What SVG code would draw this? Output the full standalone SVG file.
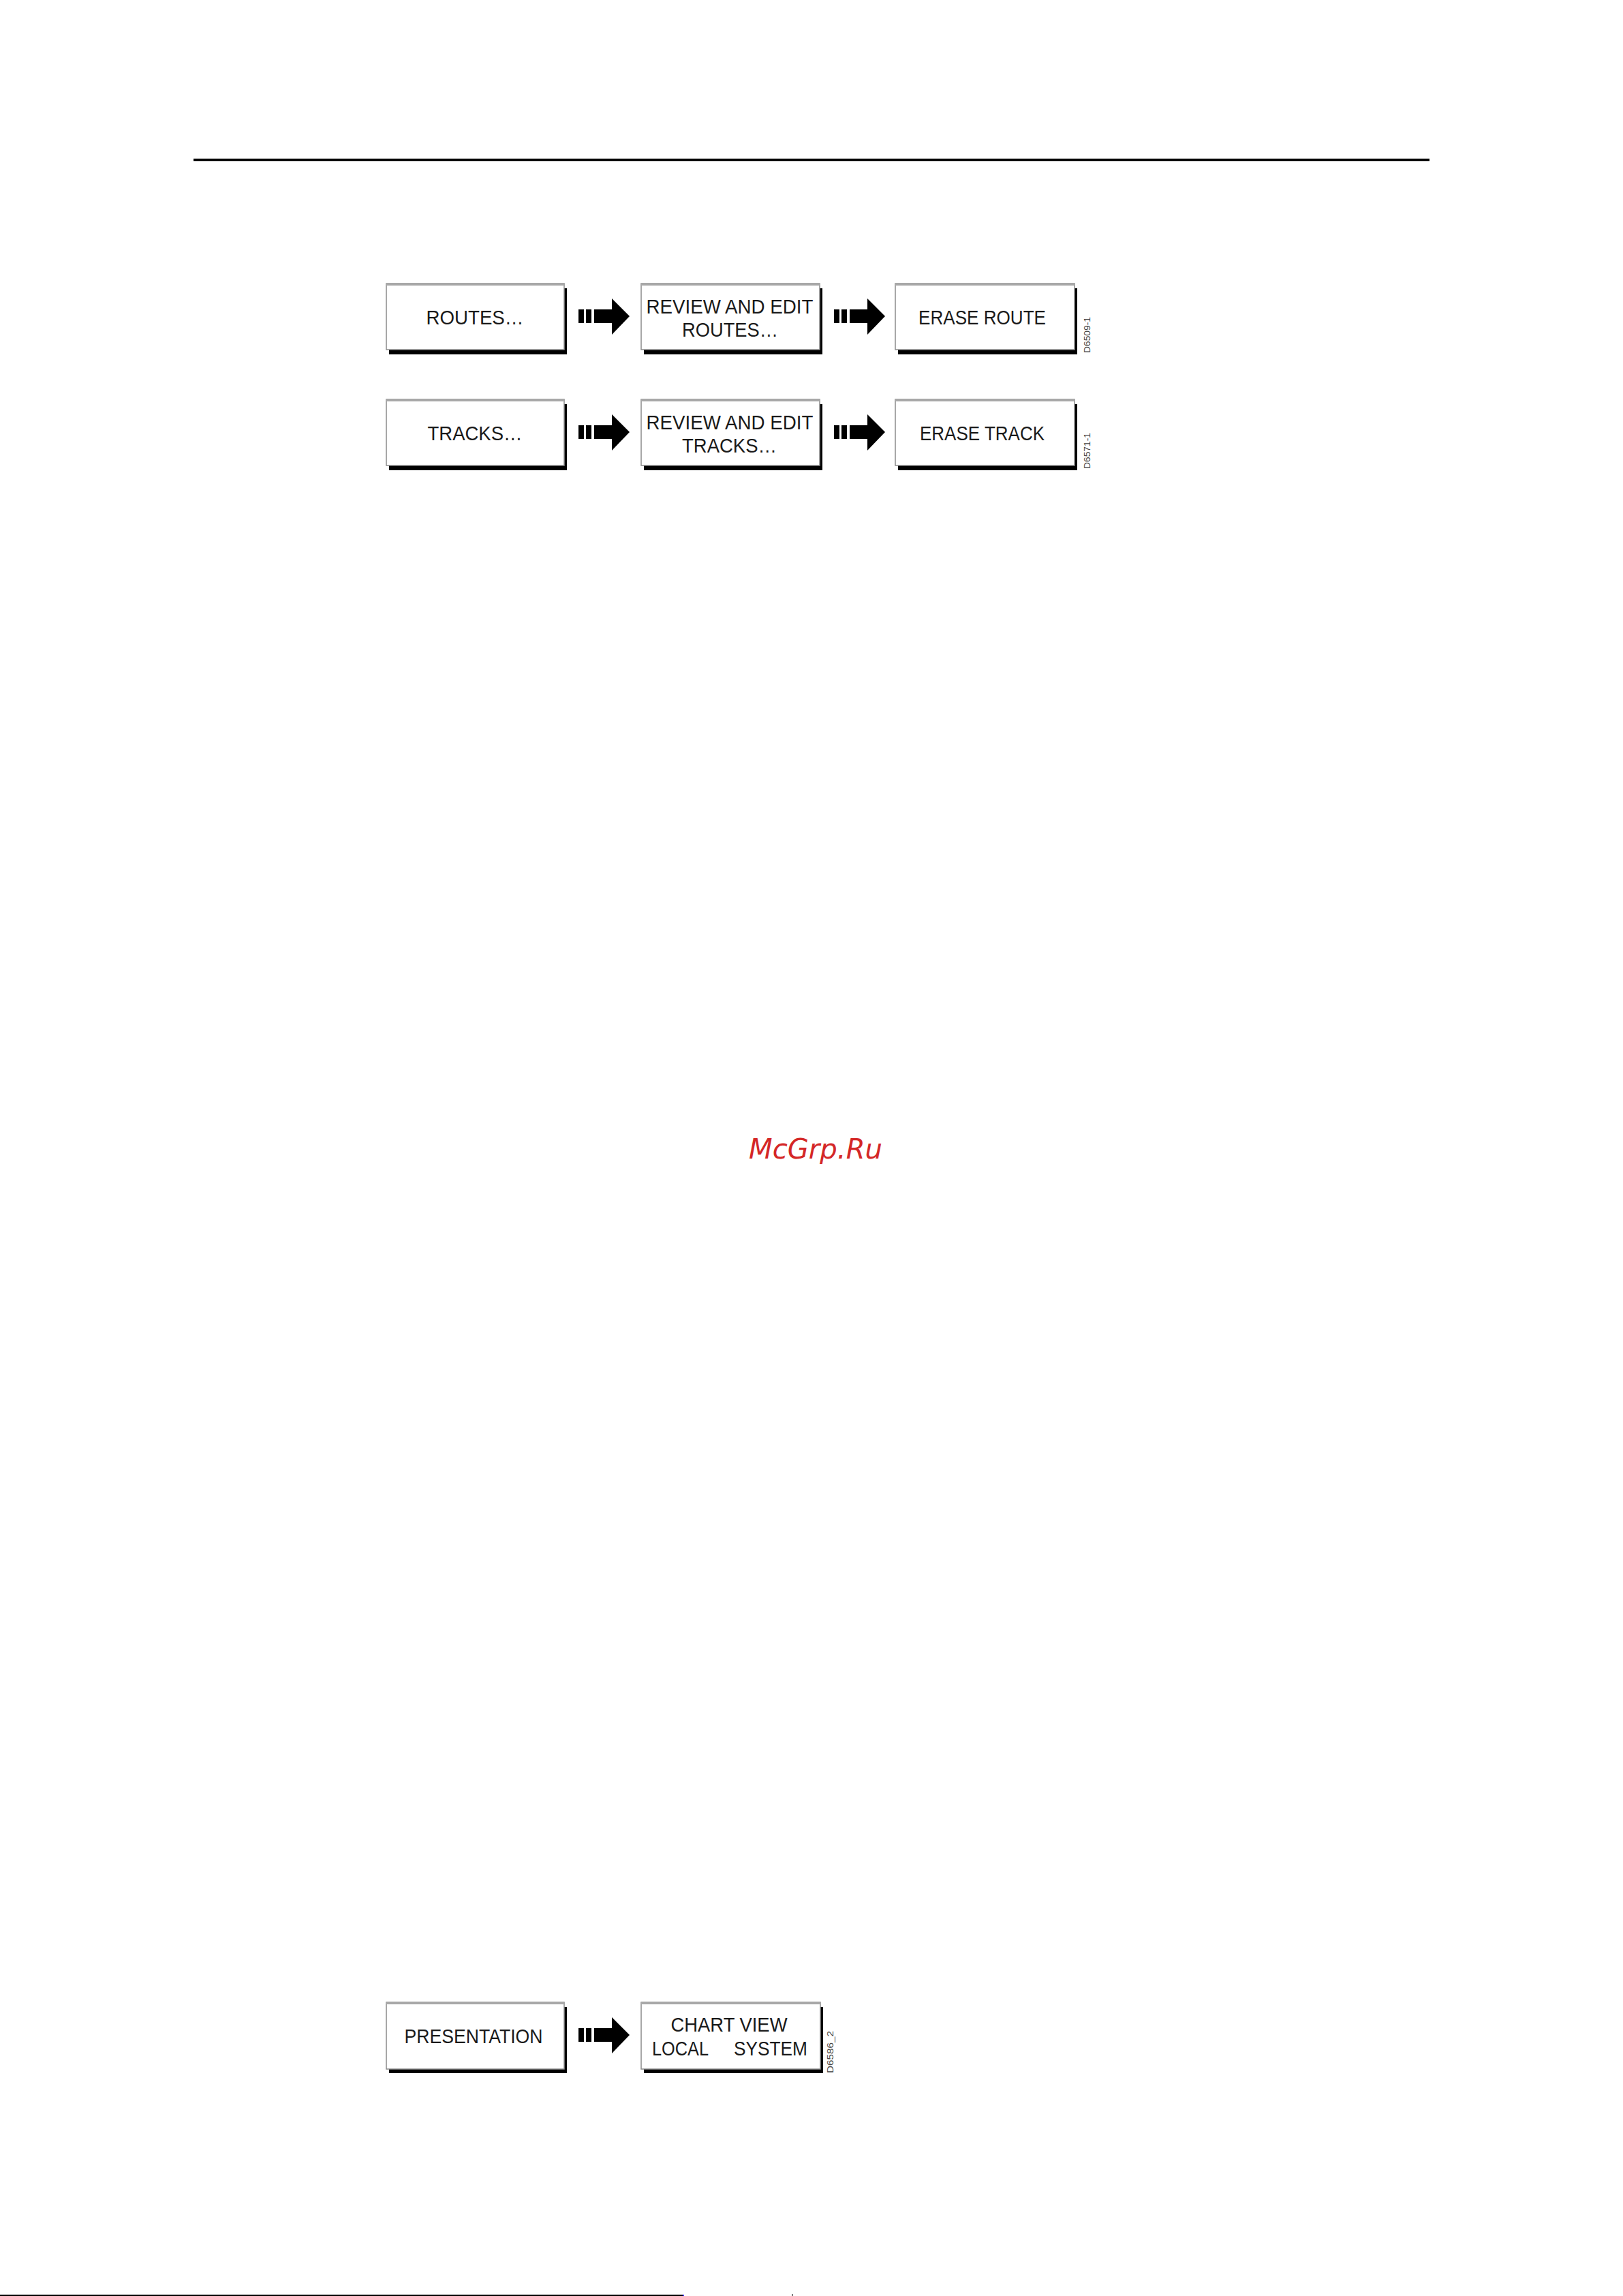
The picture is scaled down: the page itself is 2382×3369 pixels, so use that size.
<svg xmlns="http://www.w3.org/2000/svg" xmlns:xlink="http://www.w3.org/1999/xlink" width="2382" height="3369" viewBox="0 0 2382 3369">
<style>
.shadow{fill:#000}
.box{fill:#fff;stroke:#8a8a8a;stroke-width:1.5}
.top{fill:#a8a8a8}
.lbl{font-family:"Liberation Sans",Arial,sans-serif;font-size:30px;fill:#1a1a1a;text-anchor:middle}
.code{font-family:"Liberation Sans",Arial,sans-serif;font-size:12.5px;fill:#444}
.wm{font-family:"DejaVu Sans",sans-serif;font-style:oblique;font-size:40px;fill:#d42727;text-anchor:middle}
</style>
<defs>
<g id="arrow">
<rect x="0" y="-10" width="8" height="20"/>
<rect x="11" y="-10" width="8" height="20"/>
<rect x="23" y="-10" width="27" height="20"/>
<polygon points="49,-26 75,0 49,27"/>
</g>
</defs>
<rect width="2382" height="3369" fill="#fff"/>
<line x1="284" y1="234.5" x2="2098" y2="234.5" stroke="#000" stroke-width="3.3"/>
<line x1="0" y1="3368" x2="1002" y2="3368" stroke="#000" stroke-width="2"/>
<line x1="1002" y1="3368" x2="1004" y2="3368" stroke="#2a2aff" stroke-width="2"/>
<line x1="1163" y1="3366" x2="1163" y2="3369" stroke="#000" stroke-width="1"/>

<g id="connectors" fill="#000">
<use xlink:href="#arrow" x="849" y="464"/>
<use xlink:href="#arrow" x="1224" y="464"/>
<use xlink:href="#arrow" x="849" y="634"/>
<use xlink:href="#arrow" x="1224" y="634"/>
<use xlink:href="#arrow" x="849" y="2986"/>
</g>

<g id="routes">
<rect class="shadow" x="571" y="423" width="261" height="97"/>
<rect class="box" x="567" y="416" width="261" height="97"/>
<rect class="top" x="567" y="415.5" width="261" height="3.5"/>
<text class="lbl" x="697" y="476" textLength="143" lengthAdjust="spacingAndGlyphs">ROUTES…</text>
</g>
<g id="review-routes">
<rect class="shadow" x="945" y="423" width="262" height="97"/>
<rect class="box" x="941" y="416" width="262" height="97"/>
<rect class="top" x="941" y="415.5" width="262" height="3.5"/>
<text class="lbl" x="1071" y="460" textLength="245" lengthAdjust="spacingAndGlyphs">REVIEW AND EDIT</text>
<text class="lbl" x="1071.5" y="494" textLength="141" lengthAdjust="spacingAndGlyphs">ROUTES…</text>
</g>
<g id="erase-route">
<rect class="shadow" x="1318" y="423" width="263" height="97"/>
<rect class="box" x="1314" y="416" width="263" height="97"/>
<rect class="top" x="1314" y="415.5" width="263" height="3.5"/>
<text class="lbl" x="1441.5" y="476" textLength="187" lengthAdjust="spacingAndGlyphs">ERASE ROUTE</text>
</g>
<text class="code" x="1600" y="518" transform="rotate(-90 1600 518)" textLength="53" lengthAdjust="spacingAndGlyphs">D6509-1</text>

<g id="tracks">
<rect class="shadow" x="571" y="593" width="261" height="97"/>
<rect class="box" x="567" y="586" width="261" height="97"/>
<rect class="top" x="567" y="585.5" width="261" height="3.5"/>
<text class="lbl" x="697" y="646" textLength="139" lengthAdjust="spacingAndGlyphs">TRACKS…</text>
</g>
<g id="review-tracks">
<rect class="shadow" x="945" y="593" width="262" height="97"/>
<rect class="box" x="941" y="586" width="262" height="97"/>
<rect class="top" x="941" y="585.5" width="262" height="3.5"/>
<text class="lbl" x="1071" y="630" textLength="245" lengthAdjust="spacingAndGlyphs">REVIEW AND EDIT</text>
<text class="lbl" x="1070.5" y="664" textLength="139" lengthAdjust="spacingAndGlyphs">TRACKS…</text>
</g>
<g id="erase-track">
<rect class="shadow" x="1318" y="593" width="263" height="97"/>
<rect class="box" x="1314" y="586" width="263" height="97"/>
<rect class="top" x="1314" y="585.5" width="263" height="3.5"/>
<text class="lbl" x="1441.5" y="646" textLength="183" lengthAdjust="spacingAndGlyphs">ERASE TRACK</text>
</g>
<text class="code" x="1600" y="688" transform="rotate(-90 1600 688)" textLength="53" lengthAdjust="spacingAndGlyphs">D6571-1</text>

<text class="wm" x="1197" y="1700" textLength="196" lengthAdjust="spacingAndGlyphs">McGrp.Ru</text>

<g id="presentation">
<rect class="shadow" x="571" y="2945" width="261" height="97"/>
<rect class="box" x="567" y="2938" width="261" height="98"/>
<rect class="top" x="567" y="2937.5" width="261" height="3.5"/>
<text class="lbl" x="695" y="2998" textLength="203" lengthAdjust="spacingAndGlyphs">PRESENTATION</text>
</g>
<g id="chart-view">
<rect class="shadow" x="945" y="2945" width="263" height="97"/>
<rect class="box" x="941" y="2938" width="263" height="98"/>
<rect class="top" x="941" y="2937.5" width="263" height="3.5"/>
<text class="lbl" x="1070" y="2981" textLength="171" lengthAdjust="spacingAndGlyphs">CHART VIEW</text>
<text class="lbl" y="3016"><tspan x="998.5" textLength="83" lengthAdjust="spacingAndGlyphs">LOCAL</tspan><tspan x="1131" textLength="108" lengthAdjust="spacingAndGlyphs">SYSTEM</tspan></text>
</g>
<text class="code" x="1223" y="3042" transform="rotate(-90 1223 3042)" textLength="62" lengthAdjust="spacingAndGlyphs">D6586_2</text>
</svg>
